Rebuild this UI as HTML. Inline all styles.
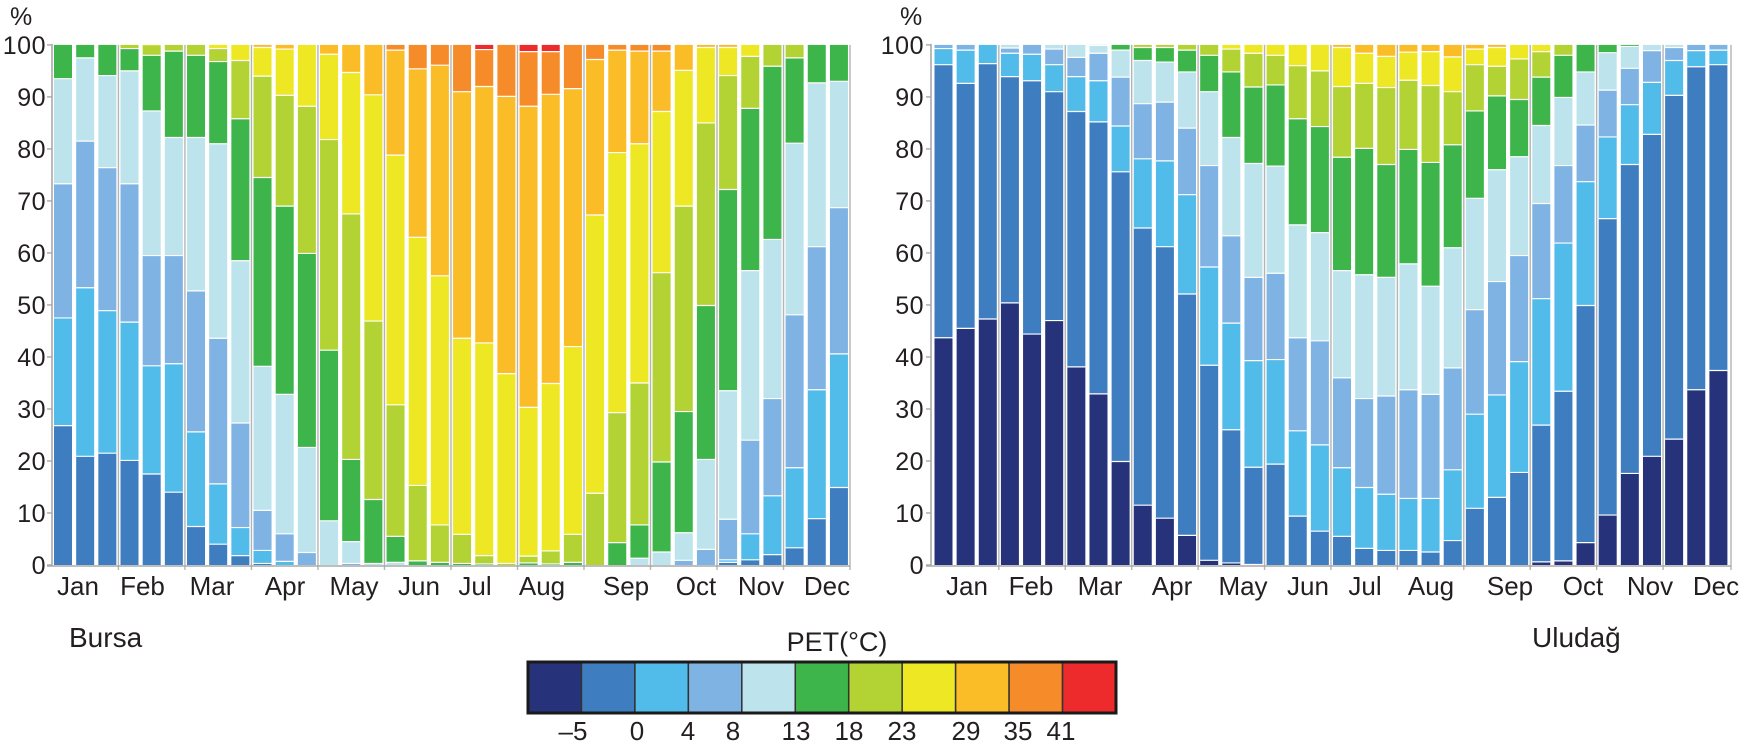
<!DOCTYPE html>
<html><head><meta charset="utf-8"><style>
body{margin:0;background:#fff;}
svg text{font-family:"Liberation Sans",Arial,sans-serif;fill:#231f20;}
</style></head><body>
<svg id="chart" width="1743" height="748" viewBox="0 0 1743 748" xmlns="http://www.w3.org/2000/svg">
<g id="root"></g>
</svg>
<script>
// PET class colours (-5 ... 41 °C)
const classColors = ["#26337a","#3f7dc1","#51bbea","#7fb3e3","#bde3ec","#3db54a","#b3d334","#ede823","#fbbd27","#f68b2a","#ee2b2c"];
const monthLabels = ["Jan","Feb","Mar","Apr","May","Jun","Jul","Aug","Sep","Oct","Nov","Dec"];
const yTicks = [0,10,20,30,40,50,60,70,80,90,100];
const legendLabels = ["\u20135","0","4","8","13","18","23","29","35","41"];

// Bursa: share (%) of each PET class per dekad (36 dekads)
const bursaC0 = [0,0,0,0,0,0,0,0,0,0,0,0,0,0,0,0,0,0,0,0,0,0,0,0,0,0,0,0,0,0,0,0,0,0,0,0];
const bursaC1 = [26.8,20.9,21.5,20.1,17.5,14,7.4,4,1.8,0.3,0,0,0,0,0,0,0,0,0,0,0,0,0,0,0,0,0,0,0,0,0.5,1,2,3.3,8.9,14.9];
const bursaC2 = [20.7,32.4,27.4,26.6,20.8,24.7,18.2,11.6,5.4,2.5,0.7,0,0,0,0,0,0,0,0,0,0,0,0,0,0,0,0,0,0,0,0.5,5,11.3,15.4,24.8,25.7];
const bursaC3 = [25.8,28.2,27.5,26.6,21.2,20.8,27.1,28,20.1,7.7,5.3,2.4,0,0.3,0,0,0,0,0,0,0,0,0,0,0,0,0,0,0.9,3,7.8,18,18.7,29.4,27.5,28.1];
const bursaC4 = [20.2,16,17.7,21.7,27.8,22.7,29.5,37.4,31.2,27.7,26.8,20.2,8.5,4.2,0.3,0.5,0,0,0,0,0,0,0,0,0,0,1.3,2.5,5.3,17.3,24.7,32.6,30.6,33,31.5,24.3];
const bursaC5 = [6.5,2.5,5.9,4.3,10.7,16.6,15.8,15.8,27.3,36.3,36.2,37.3,32.8,15.8,12.3,5,0.8,0.5,0.3,0.2,0,0.4,0.2,0.5,0,4.3,6.4,17.3,23.3,29.6,38.7,31.2,33.3,16.4,7.3,7];
const bursaC6 = [0,0,0,0.7,1.9,1.2,2,2.5,11.2,19.5,21.3,28.3,40.5,47.2,34.3,25.3,14.5,7.2,5.6,1.6,0.3,1.3,2.5,5.4,13.8,25,27.3,36.4,39.5,35.1,21.9,10,4.1,2.5,0,0];
const bursaC7 = [0,0,0,0,0.1,0,0,0.7,3,5.5,8.9,11.8,16.4,27.2,43.5,48,47.7,47.9,37.7,40.9,36.5,28.6,32.2,36.1,53.5,50,46,31,26.1,14.5,5.4,2.2,0,0,0,0];
const bursaC8 = [0,0,0,0,0,0,0,0,0,0.5,0.8,0,1.8,5.3,9.6,20.2,32.4,40.5,47.4,49.3,53.3,57.9,55.6,49.6,29.9,19.7,17.8,11.6,4.9,0.5,0.5,0,0,0,0,0];
const bursaC9 = [0,0,0,0,0,0,0,0,0,0,0,0,0,0,0,1,4.6,3.9,9,7.1,9.9,10.5,8.2,8.4,2.8,1,1.2,1.2,0,0,0,0,0,0,0,0];
const bursaC10 = [0,0,0,0,0,0,0,0,0,0,0,0,0,0,0,0,0,0,0,0.9,0,1.3,1.3,0,0,0,0,0,0,0,0,0,0,0,0,0];

// Uludag
const uludagC0 = [43.7,45.5,47.3,50.4,44.4,47,38.1,32.9,19.9,11.5,9,5.7,0.9,0.4,0.1,0,0,0,0,0,0,0,0,0,0,0,0,0.6,0.8,4.3,9.6,17.6,20.9,24.2,33.7,37.4];
const uludagC1 = [52.5,47.1,49.1,43.5,48.7,44,49.1,52.3,55.7,53.3,52.2,46.4,37.5,25.6,18.7,19.4,9.4,6.5,5.5,3.2,2.8,2.8,2.5,4.7,10.9,13,17.8,26.3,32.6,45.6,57,59.4,61.9,66.1,62.1,58.8];
const uludagC2 = [3.1,6.4,3.6,4.5,5.1,5.2,6.7,7.9,8.8,13.3,16.5,19.1,18.9,20.5,20.5,20.1,16.4,16.6,13.2,11.7,10.8,10,10.3,13.6,18.1,19.7,21.3,24.3,28.5,23.8,15.7,11.5,10,6.7,3.1,2.8];
const uludagC3 = [0.7,1,0,1,1.8,3,3.7,5.3,9.4,10.6,11.3,12.8,19.5,16.8,16,16.6,17.9,20,17.3,17.1,18.9,20.9,20,19.6,20.1,21.8,20.4,18.3,14.9,10.9,9,7,6.1,2.5,1.1,1];
const uludagC4 = [0,0,0,0.6,0,0.8,2.4,1.5,5.2,8.3,7.7,10.8,14.2,18.9,21.9,20.6,21.7,20.8,20.6,23.8,22.8,24.2,20.8,23.1,21.4,21.5,19,15,13.1,10.2,7.2,4.2,1.1,0.5,0,0];
const uludagC5 = [0,0,0,0,0,0,0,0.1,1,2.5,2.8,4.2,7,12.6,14.7,15.6,20.4,20.4,21.8,24.3,21.7,22,23.8,19.8,16.8,14.2,11,9.3,8.1,5.2,1.5,0.3,0,0,0,0];
const uludagC6 = [0,0,0,0,0,0,0,0,0,0.5,0.5,1,2,4.4,6.5,5.7,10.2,10.7,13.6,12.5,14.8,13.3,14.8,10.2,8.9,5.7,7.8,4.9,2,0,0,0,0,0,0,0];
const uludagC7 = [0,0,0,0,0,0,0,0,0,0,0,0,0,0.8,1.6,2,4,5,7.5,5.8,6,5.4,6.5,6.7,3,3.6,2.7,1.3,0,0,0,0,0,0,0,0];
const uludagC8 = [0,0,0,0,0,0,0,0,0,0,0,0,0,0,0,0,0,0,0.5,1.6,2.2,1.4,1.3,2.3,0.8,0.5,0,0,0,0,0,0,0,0,0,0];
const uludagC9 = [0,0,0,0,0,0,0,0,0,0,0,0,0,0,0,0,0,0,0,0,0,0,0,0,0,0,0,0,0,0,0,0,0,0,0,0];
const uludagC10 = [0,0,0,0,0,0,0,0,0,0,0,0,0,0,0,0,0,0,0,0,0,0,0,0,0,0,0,0,0,0,0,0,0,0,0,0];

const NS = "http://www.w3.org/2000/svg";
const root = document.getElementById("root");
function mk(tag, attrs, parent){
  const e = document.createElementNS(NS, tag);
  for (const k in attrs) e.setAttribute(k, attrs[k]);
  (parent||root).appendChild(e);
  return e;
}
const Y0 = 565, Y100 = 44.9;
function yScale(v){ return Y0 - (Y0 - Y100) * v / 100; }

function panel(name, series, axisX, barX0, pitch, monthLabelX, pctX, tickRight, rightEdge){
  const g = mk("g", {});
  
  
  const n = series[0].length;
  const bw = 18;
  for (let i = 0; i < n; i++){
    const x = barX0 + i * pitch;
    let cum = 0;
    for (let c = 0; c < series.length; c++){
      const v = series[c][i];
      if (!(v > 0)) continue;
      const yt = yScale(cum + v), yb = yScale(cum);
      const r = mk("rect", {x: x, y: yt, width: bw, height: Math.max(0, yb - yt), fill: classColors[c]}, g);
      
      
      cum += v;
    }
    cum = 0;
    for (let c = 0; c < series.length - 1; c++){
      cum += series[c][i];
      if (series[c][i] > 0 && cum < 99.9){
        const l = mk("line", {x1: x, x2: x + bw, y1: yScale(cum), y2: yScale(cum), stroke: "#fff", "stroke-width": 1.2}, g);
        
        
      }
    }
  }
  for (let m = 1; m < 12; m++){
    const sx = barX0 + (m * 3) * pitch - (pitch - bw) / 2;
    const s = mk("line", {x1: sx, x2: sx, y1: Y100, y2: Y0 + 5, stroke: "#b4b4b4", "stroke-width": 1.4}, g);
    
    
  }
  const re = mk("line", {x1: rightEdge, x2: rightEdge, y1: Y100, y2: Y0 + 5, stroke: "#b4b4b4", "stroke-width": 1.4}, g);
  
  
  const ya = mk("line", {x1: axisX, x2: axisX, y1: Y100 - 1, y2: Y0 + 1, stroke: "#a8a8a8", "stroke-width": 1.6}, g);
  
  
  const xa = mk("line", {x1: axisX - 5, x2: rightEdge, y1: Y0 + 1, y2: Y0 + 1, stroke: "#a8a8a8", "stroke-width": 1.6}, g);
  
  
  for (const t of yTicks){
    const tk = mk("line", {x1: axisX - 5, x2: axisX, y1: yScale(t), y2: yScale(t), stroke: "#a8a8a8", "stroke-width": 1.4}, g);
    
    
    const tx = mk("text", {x: tickRight, y: yScale(t) + 9, "text-anchor": "end", "font-size": 25, "letter-spacing": 0.5}, g);
    tx.textContent = t;
    
    
  }
  const pct = mk("text", {x: pctX, y: 25, "font-size": 25}, g);
  pct.textContent = "%";
  
  
  for (let m = 0; m < 12; m++){
    const ml = mk("text", {x: monthLabelX[m], y: 595, "text-anchor": "middle", "font-size": 26}, g);
    ml.textContent = monthLabels[m];
    
    
  }
}

panel("bursa",
  [bursaC0,bursaC1,bursaC2,bursaC3,bursaC4,bursaC5,bursaC6,bursaC7,bursaC8,bursaC9,bursaC10],
  52, 54, 22.17, [78,142.5,212,285,354,419,475,542,626,696,761,827], 10, 46, 850);
panel("uludag",
  [uludagC0,uludagC1,uludagC2,uludagC3,uludagC4,uludagC5,uludagC6,uludagC7,uludagC8,uludagC9,uludagC10],
  931, 934.5, 22.14, [967,1031,1100,1172,1243,1308,1365,1431,1510,1583,1650,1716], 900, 924, 1731);

const b = mk("text", {x: 69, y: 647, "font-size": 28});
b.textContent = "Bursa";


const u = mk("text", {x: 1532, y: 647, "font-size": 28});
u.textContent = "Uludağ";



const lg = mk("g", {});


const lt = mk("text", {x: 837, y: 651, "text-anchor": "middle", "font-size": 27}, lg);
lt.textContent = "PET(°C)";


const LX0 = 528, LX1 = 1116, LY0 = 662, LY1 = 713;
const cw = (LX1 - LX0) / classColors.length;
for (let c = 0; c < classColors.length; c++){
  const r = mk("rect", {x: LX0 + c * cw, y: LY0, width: cw, height: LY1 - LY0, fill: classColors[c], stroke: "#333", "stroke-width": 1.5}, lg);
  
  
}
const lb = mk("rect", {x: LX0, y: LY0, width: LX1 - LX0, height: LY1 - LY0, fill: "none", stroke: "#1a1a1a", "stroke-width": 3}, lg);


const legendLabelX = [573,637,688,733,796,849,902,966,1018,1061];
for (let k = 0; k < legendLabels.length; k++){
  const t = mk("text", {x: legendLabelX[k], y: 740, "text-anchor": "middle", "font-size": 26}, lg);
  t.textContent = legendLabels[k];
  
  
}
</script>
</body></html>
